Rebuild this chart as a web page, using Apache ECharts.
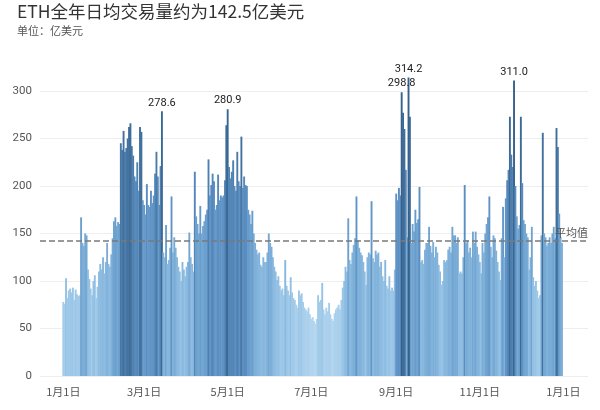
<!DOCTYPE html>
<html>
<head>
<meta charset="utf-8">
<script src="https://cdn.jsdelivr.net/npm/echarts@6/dist/echarts.min.js"></script>
<style>html,body{margin:0;padding:0;background:#fff}#c{width:600px;height:410px}</style>
</head>
<body>
<div id="c"></div>
<script>
// Daily ETH trading volume (亿美元), day index 0 = 1月1日
const volumes = [
  78,76,103,82,90,92,88,93,80,91,
  86,84,85,167,140,137,150,148,112,102,
  92,85,100,106,82,94,110,118,112,125,
  108,120,140,118,115,128,145,163,167,158,
  162,160,245,238,258,236,240,250,262,266,
  242,232,210,205,225,195,262,257,185,180,
  170,202,180,178,195,182,190,213,236,210,
  180,221,278.6,130,125,159,118,122,135,189,
  130,146,135,125,115,110,100,120,112,105,
  115,120,151,125,118,110,215,168,160,150,
  179,150,158,163,170,175,228,190,201,213,
  205,175,180,212,185,190,188,190,206,264,
  280.9,220,208,215,227,200,195,236,205,200,
  252,198,210,201,200,175,170,160,174,150,
  140,133,128,130,117,115,125,120,120,130,
  150,140,136,125,115,110,101,105,95,90,
  92,85,122,95,90,85,104,88,82,80,
  75,72,90,85,87,78,72,70,68,72,
  65,60,62,58,55,60,85,78,80,98,
  70,65,72,68,77,65,60,58,66,70,
  72,75,70,80,93,100,115,110,166,122,
  118,130,138,145,189,143,135,130,127,120,
  110,96,125,130,128,184,124,120,132,128,
  130,115,120,105,100,122,95,92,105,90,
  93,90,112,192,185,198,190,298.8,277,260,
  217,146,314.2,273,140,160,152,175,161,165,
  199,120,122,118,133,140,140,157,137,130,
  141,125,136,130,117,110,96,100,122,120,
  122,133,136,130,157,148,148,140,146,108,
  110,108,125,201,140,143,130,135,125,152,
  140,152,136,128,120,108,140,130,150,160,
  167,189,136,125,148,145,132,120,110,101,
  145,178,125,187,206,217,273,233,220,311.0,
  200,168,155,159,273,203,164,160,150,146,
  112,125,157,104,95,100,90,82,85,148,
  256,150,146,137,140,146,140,150,157,145,
  261,241,171,146,140
];
const peakLabels = [278.6, 280.9, 298.8, 314.2, 311.0];
const averageValue = 142.5;
const tickDays = [0, 59, 120, 181, 243, 304, 365];
const tickLabels = ['1月1日', '3月1日', '5月1日', '7月1日', '9月1日', '11月1日', '1月1日'];

const chart = echarts.init(document.getElementById('c'), null, {renderer: 'canvas'});
const data = volumes.map((v, i) => ({
  value: [i, v],
  label: {show: peakLabels.indexOf(v) >= 0}
}));

chart.setOption({
  animation: false,
  backgroundColor: '#fff',
  title: {
    text: 'ETH全年日均交易量约为142.5亿美元',
    subtext: '单位：亿美元',
    left: 12,
    top: -2,
    itemGap: 5,
    textStyle: {fontFamily: 'Noto Sans CJK SC', fontSize: 17.5, fontWeight: 'normal', color: '#333'},
    subtextStyle: {fontFamily: 'Noto Sans CJK SC', fontSize: 11, color: '#555'}
  },
  grid: {left: 40, right: 12, top: 91, bottom: 34},
  xAxis: {
    type: 'value',
    min: -17,
    max: 383,
    axisLine: {show: false},
    axisTick: {show: false},
    splitLine: {show: false},
    axisLabel: {
      customValues: tickDays,
      formatter: v => tickLabels[tickDays.indexOf(v)],
      color: '#555',
      fontSize: 11,
      margin: 10,
      fontFamily: 'Noto Sans CJK SC'
    }
  },
  yAxis: {
    type: 'value',
    min: 0,
    max: 300,
    interval: 50,
    axisLine: {show: false},
    axisTick: {show: false},
    splitLine: {lineStyle: {color: '#eeeeee'}},
    axisLabel: {color: '#555', fontSize: 11.5, margin: 8, fontFamily: 'Roboto'}
  },
  visualMap: {
    show: false,
    type: 'continuous',
    dimension: 1,
    min: 50,
    max: 300,
    inRange: {color: ['#b8d9f1', '#95c2e5', '#74a8d3', '#5a8ec2', '#44739f', '#35618c']}
  },
  series: [{
    type: 'bar',
    data: data,
    barWidth: 1.9,
    clip: false,
    label: {
      position: 'top',
      distance: 3,
      color: '#222',
      fontSize: 11,
      fontFamily: 'Roboto',
      formatter: p => p.value[1].toFixed(1)
    },
    markLine: {
      symbol: 'none',
      silent: true,
      data: [{yAxis: averageValue}],
      lineStyle: {type: 'dashed', color: '#7a7a7a', width: 1.5},
      label: {
        position: 'insideEndTop',
        formatter: '平均值',
        color: '#555',
        fontSize: 11,
        fontFamily: 'Noto Sans CJK SC',
        distance: [0, 2]
      }
    }
  }]
});
</script>
</body>
</html>
